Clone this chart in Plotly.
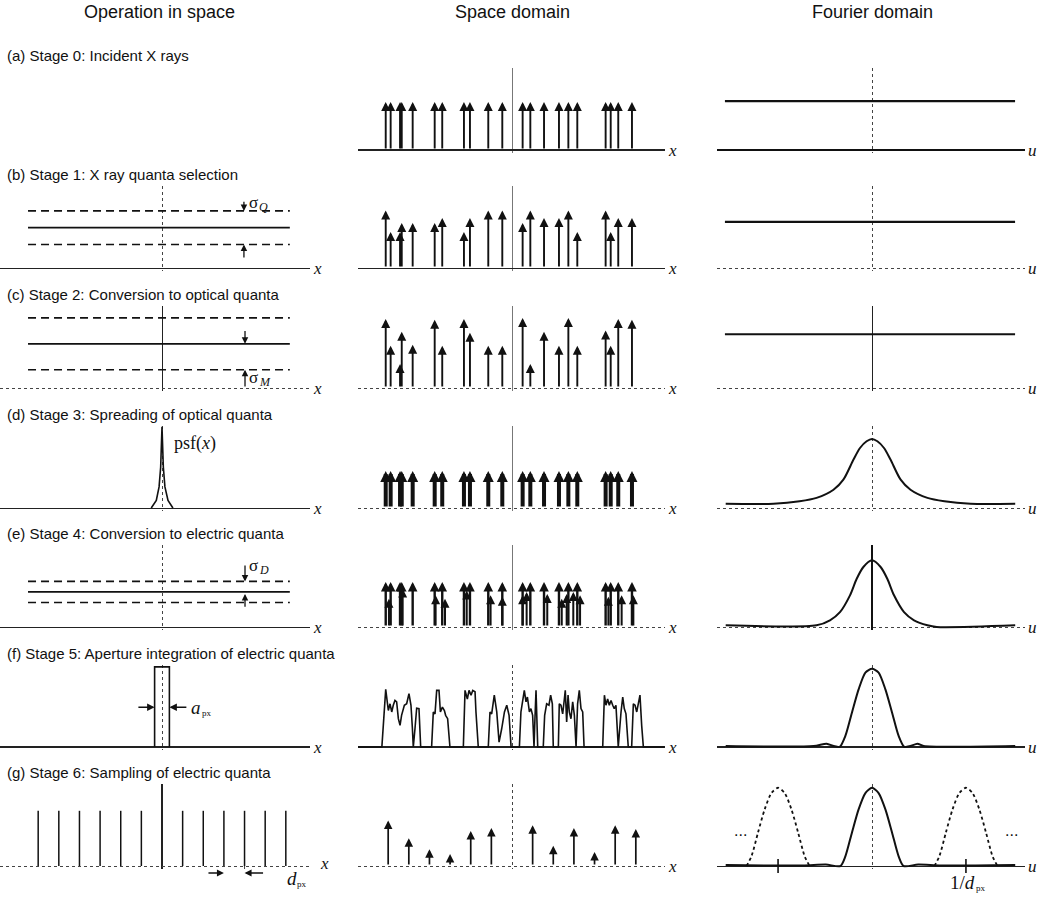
import plotly.graph_objects as go

# ======================= data =======================
column_titles = ["Operation in space", "Space domain", "Fourier domain"]
row_labels = [
    "(a) Stage 0: Incident X rays",
    "(b) Stage 1: X ray quanta selection",
    "(c) Stage 2: Conversion to optical quanta",
    "(d) Stage 3: Spreading of optical quanta",
    "(e) Stage 4: Conversion to electric quanta",
    "(f) Stage 5: Aperture integration of electric quanta",
    "(g) Stage 6: Sampling of electric quanta",
]

# positions of the individual quanta (space domain, arbitrary units)
quanta_x = [-82.0, -78.8, -72.7, -71.6, -64.5, -50.2, -45.3, -31.2, -27.3, -15.4, -6.3,
            6.9, 11.9, 20.8, 30.5, 36.6, 42.4, 60.8, 64.1, 69.0, 77.9]
stage0_heights = [1.0, 1.0, 1.0, 1.0, 1.0, 1.0, 1.0, 1.0, 1.0, 1.0, 1.0,
                  1.0, 1.0, 1.0, 1.0, 1.0, 1.0, 1.0, 1.0, 1.0, 1.0]
stage1_heights = [1.2, 0.75, 0.75, 0.94, 0.94, 0.94, 1.04, 0.75, 1.04, 1.2, 1.2,
                  0.94, 1.2, 1.04, 1.04, 1.2, 0.75, 1.2, 0.75, 1.04, 1.04]
stage2_heights = [1.44, 0.88, 0.5, 1.17, 0.9, 1.42, 0.88, 1.44, 1.15, 0.88, 0.88,
                  1.46, 0.5, 1.17, 0.88, 1.46, 0.88, 1.2, 0.88, 1.44, 1.42]
stage3_heights = [0.77, 0.77, 0.77, 0.77, 0.77, 0.77, 0.77, 0.77, 0.77, 0.77, 0.77,
                  0.77, 0.77, 0.77, 0.77, 0.77, 0.77, 0.77, 0.77, 0.77, 0.77]
stage4_heights = [0.94, 0.94, 0.94, 0.94, 0.94, 0.94, 0.94, 0.94, 0.94, 0.94, 0.94,
                  0.94, 0.94, 0.94, 0.94, 0.94, 0.94, 0.94, 0.94, 0.94, 0.94]
stage4_extra_x = [-79.9, -71.0, -49.6, -43.5, -29.4, -13.9, -6.3, 6.9, 9.5, 22.9, 32.3,
                  35.5, 39.8, 44.2, 62.6, 71.2, 78.8]
stage4_extra_h = [0.59, 0.8, 0.66, 0.59, 0.76, 0.66, 0.63, 0.66, 0.73, 0.69, 0.59,
                  0.69, 0.73, 0.66, 0.63, 0.66, 0.66]

# stage 5 : aperture-integrated signal (space domain)
stage5_x = [-100, -84.5, -82.0, -80.3, -79.2, -78.1, -77.1, -76.0, -74.9, -73.8, -72.7, -71.7,
            -69.9, -68.4, -66.9, -65.6, -64.7, -64.1, -63.0, -61.9, -60.4, -59.3,
            -52.2, -51.1, -50.0, -48.9, -47.4, -46.5, -45.2, -43.9, -43.1, -41.8, -40.3,
            -31.6, -30.5, -29.0, -27.9, -26.6, -25.5, -24.0, -23.4, -21.9,
            -15.4, -14.3, -13.2, -11.5, -9.9, -8.4, -6.7, -4.9, -3.4, -1.9, -0.6,
            4.8, 5.8, 6.9, 8.0, 9.1, 10.0, 11.3, 12.3, 13.4, 14.3, 14.9, 15.6, 16.7,
            20.3, 21.2, 22.5, 24.0, 25.1, 26.2, 26.8,
            30.1, 30.7, 31.8, 32.9, 34.0, 34.6, 35.5, 36.4, 37.2, 38.3, 39.4, 40.5, 41.6,
            42.6, 43.7, 44.8, 45.9, 46.8,
            58.9, 60.0, 61.0, 62.1, 63.2, 64.3, 65.4, 66.4, 67.5, 69.0,
            70.8, 71.9, 72.9, 74.0, 75.5,
            77.7, 78.8, 79.9, 81.0, 82.1, 83.1, 84.2, 85.3, 99]
stage5_y = [0, 0, 1.2, 0.76, 0.9, 0.73, 0.87, 0.97, 0.94, 0.59, 0.45, 0.66,
            0.87, 0.9, 1.11, 0.87, 0.4, 0.0, 0.38, 0.81, 0.8, 0.0,
            0, 0.73, 0.69, 1.18, 1.18, 0.73, 0.83, 0.76, 0.66, 0.59, 0,
            0, 1.18, 1.0, 1.18, 1.08, 1.18, 1.15, 0.73, 0,
            0, 0.73, 0.69, 1.08, 0.73, 0.1, 0.38, 0.73, 0.87, 0.66, 0,
            0, 0.73, 0.94, 1.18, 0.94, 1.04, 0.73, 0.8, 0.66, 0.0, 0.59, 1.18, 0,
            0, 0.66, 0.9, 0.87, 1.08, 0.9, 0,
            0, 0.9, 0.87, 0.69, 1.0, 1.18, 0.52, 1.08, 0.73, 0.59, 0.94, 0.66, 0.0,
            0.9, 1.18, 0.8, 0.73, 0,
            0, 1.08, 0.87, 1.0, 0.87, 0.97, 0.87, 0.8, 0.87, 0,
            0.73, 1.04, 0.8, 0.69, 0,
            0, 0.9, 0.87, 0.73, 0.94, 1.08, 0.45, 0, 0]

# stage 6 : sampling
sample_x = [-80.4, -67.0, -53.6, -40.2, -26.8, -13.4, 13.4, 26.8, 40.2, 53.6, 67.0, 80.4]
sample_values = [0.95, 0.58, 0.35, 0.25, 0.73, 0.79, 0.85, 0.42, 0.79, 0.29, 0.85, 0.77]
comb_heights = [1.15, 1.15, 1.15, 1.15, 1.15, 1.15, 1.15, 1.15, 1.15, 1.15, 1.15, 1.15]

# operation-in-space column
gain_extent = [-87, 83]
gain_mean = {"b": 0.84, "c": 0.92, "e": 0.73}
gain_sigma = {"b": 0.35, "c": 0.54, "e": 0.22}
psf_x = [-7.0, -3.7, -1.9, -0.87, 0.0, 0.87, 1.9, 3.9, 7.1]
psf_y = [0.0, 0.16, 0.44, 0.85, 1.69, 0.85, 0.44, 0.16, 0.0]
aperture_x = [-4.8, -4.8, 4.8, 4.8]
aperture_y = [0.0, 1.67, 1.67, 0.0]

# Fourier domain
fourier_flat_x = [-95.5, 92.9]
fourier_flat_levels = [1.02, 0.96, 1.12]
mtf3_x = [-95, -64, -47, -36, -25, -18.6, -12, -7.8, -3.5, 0, 3.5, 7.8, 12, 18.6, 25, 36, 47, 64, 93]
mtf3_y = [0.09, 0.09, 0.14, 0.21, 0.38, 0.59, 1.01, 1.25, 1.39, 1.44, 1.39, 1.25, 1.01, 0.59, 0.38,
          0.21, 0.14, 0.09, 0.09]
mtf4_x = [-95, -36, -27.3, -20.8, -14.3, -10, -5.6, 0, 5.6, 10, 14.3, 20.8, 27.3, 36, 42, 93]
mtf4_y = [0.035, 0.035, 0.14, 0.31, 0.66, 1.0, 1.25, 1.39, 1.25, 1.0, 0.66, 0.31, 0.14, 0.035, 0.0, 0.035]
mtf5_x = [-95, -37.9, -29.5, -24.9, -21.0, -17.3, -13.0, -8.7, -4.3, 0, 4.3, 8.7, 13.0, 17.3, 21.0,
          24.9, 29.5, 33.5, 93]
mtf5_y = [0.02, 0.02, 0.07, 0.02, 0.0, 0.23, 0.72, 1.2, 1.55, 1.63, 1.55, 1.2, 0.72, 0.23, 0.0,
          0.02, 0.07, 0.02, 0.02]
mtf6_x = [-95, -45, -30, -20.5, -17.3, -13, -8.7, -4.3, 0, 4.3, 8.7, 13, 17.3, 20.5, 30, 45, 93]
mtf6_y = [0.02, 0.01, 0.03, 0.0, 0.2, 0.7, 1.18, 1.52, 1.63, 1.52, 1.18, 0.7, 0.2, 0.0, 0.03, 0.01, 0.02]
alias_centres = [-61.0, 61.0]

# ======================= layout constants =======================
W, H = 1044, 899
X_SCALE = 1.54   # px per x unit
Y_SCALE = 48.0   # px per y unit
COLS = [(0, 310, 162), (358, 665, 512), (717, 1025, 872)]
ROW_BASE = [150, 268, 388, 508, 627, 747, 866]
TOP_PX, BOT_PX = 82, 3
SANS = "Liberation Sans, Arial, sans-serif"
SERIF = "Liberation Serif, Times New Roman, serif"
INK = "#111111"

SOLID = ("solid", "#222222", 1.2)
DOT = ("dot", "#444444", 1.2)
GREY = ("solid", "#777777", 1.0)
center_style = {
    (1, 0): DOT, (2, 0): SOLID, (3, 0): DOT, (4, 0): DOT, (5, 0): DOT, (6, 0): ("solid", "#222222", 1.5),
    (0, 1): GREY, (1, 1): GREY, (2, 1): GREY, (3, 1): GREY, (4, 1): GREY, (5, 1): DOT, (6, 1): DOT,
    (0, 2): DOT, (1, 2): DOT, (2, 2): SOLID, (3, 2): DOT, (4, 2): ("solid", "#111111", 1.8),
    (5, 2): DOT, (6, 2): DOT,
}
base_style = {
    (1, 0): SOLID, (2, 0): DOT, (3, 0): SOLID, (4, 0): SOLID, (5, 0): ("solid", "#222222", 1.6), (6, 0): DOT,
    (0, 1): ("solid", "#222222", 1.6), (1, 1): SOLID, (2, 1): DOT, (3, 1): DOT, (4, 1): DOT,
    (5, 1): ("solid", "#222222", 1.6), (6, 1): DOT,
    (0, 2): ("solid", "#111111", 2.0), (1, 2): DOT, (2, 2): DOT, (3, 2): DOT, (4, 2): DOT,
    (5, 2): ("solid", "#222222", 1.6), (6, 2): ("solid", "#222222", 1.4),
}

fig = go.Figure()
layout_axes = {}
panels = {}
annotations = []
shapes = []

i = 0
for r in range(7):
    for c in range(3):
        if (r, c) == (0, 0):
            continue
        i += 1
        xk = "xaxis" if i == 1 else f"xaxis{i}"
        yk = "yaxis" if i == 1 else f"yaxis{i}"
        xr = "x" if i == 1 else f"x{i}"
        yr = "y" if i == 1 else f"y{i}"
        x0, x1, xc = COLS[c]
        yb = ROW_BASE[r]
        cd, cc, cw = center_style[(r, c)]
        bd, bc, bw = base_style[(r, c)]
        common = dict(showticklabels=False, ticks="", zeroline=False, showline=False,
                      fixedrange=True, showgrid=True, tickvals=[0])
        layout_axes[xk] = dict(domain=[x0 / W, x1 / W],
                               range=[(x0 - xc) / X_SCALE, (x1 - xc) / X_SCALE],
                               anchor=yr, gridcolor=cc, gridwidth=cw, griddash=cd, **common)
        layout_axes[yk] = dict(domain=[1 - (yb + BOT_PX) / H, 1 - (yb - TOP_PX) / H],
                               range=[-BOT_PX / Y_SCALE, TOP_PX / Y_SCALE],
                               anchor=xr, gridcolor=bc, gridwidth=bw, griddash=bd, **common)
        panels[(r, c)] = (xr, yr)
        # axis variable label
        lab = "<i>u</i>" if c == 2 else "<i>x</i>"
        annotations.append(dict(text=lab, xref=f"{xr} domain", x=1, xanchor="left",
                                xshift=(8 if (r, c) == (6, 0) else 1),
                                yref=yr, y=0, yanchor="middle", yshift=(3 if (r, c) == (6, 0) else 0),
                                showarrow=False, font=dict(family=SERIF, size=17, color=INK)))


def line(p, xs, ys, width=2.0, dash="solid", shape="linear", color=INK, smoothing=1.0):
    xr, yr = panels[p]
    fig.add_trace(go.Scatter(x=xs, y=ys, xaxis=xr, yaxis=yr, mode="lines",
                             line=dict(color=color, width=width, dash=dash, shape=shape,
                                       smoothing=smoothing),
                             hoverinfo="skip", showlegend=False))


def arrow(p, x, y, ax, ay, width=2.0, size=0.9, head=2, color=INK, yshift=0):
    xr, yr = panels[p]
    annotations.append(dict(x=x, y=y, ax=ax, ay=ay, xref=xr, yref=yr, axref=xr, ayref=yr,
                            text="", showarrow=True, arrowhead=head, arrowsize=size,
                            arrowwidth=width, arrowcolor=color, standoff=0, startstandoff=0,
                            yshift=yshift))


def label(p, x, y, text, size=17, family=SERIF, xanchor="left", xshift=0, yshift=0):
    xr, yr = panels[p]
    annotations.append(dict(x=x, y=y, xref=xr, yref=yr, text=text, showarrow=False,
                            xanchor=xanchor, yanchor="middle", xshift=xshift, yshift=yshift,
                            borderpad=0, borderwidth=0,
                            font=dict(family=family, size=size, color=INK)))


def sublabel(p, x, y, main, sub, size=18, sub_size=10, sub_drop=5, yshift=0):
    # main text ends at x, subscript starts at x (no html <sub>)
    label(p, x, y, main, size=size, xanchor="right", yshift=yshift)
    label(p, x, y, sub, size=sub_size, xanchor="left", xshift=0.5, yshift=yshift - sub_drop)


# ---------------- column 0 : operation in space ----------------
for key, r in (("b", 1), ("c", 2), ("e", 4)):
    m, s = gain_mean[key], gain_sigma[key]
    line((r, 0), gain_extent, [m + s, m + s], width=1.6, dash="8px,5px")
    line((r, 0), gain_extent, [m, m], width=1.8)
    line((r, 0), gain_extent, [m - s, m - s], width=1.6, dash="8px,5px")

mb, sb = gain_mean["b"], gain_sigma["b"]
arrow((1, 0), 53.2, mb + sb, 53.2, mb + sb + 0.22, width=1.3, size=1.0)
arrow((1, 0), 53.2, mb - sb, 53.2, mb - sb - 0.3, width=1.3, size=1.0)
sublabel((1, 0), 62.5, mb + sb + 0.18, "σ", "<i>Q</i>", size=17, sub_size=12)

mc, sc = gain_mean["c"], gain_sigma["c"]
arrow((2, 0), 53.9, mc, 53.9, mc + 0.3, width=1.3, size=1.0)
arrow((2, 0), 53.9, mc - sc, 53.9, 0.0, width=1.3, size=1.0)
sublabel((2, 0), 62.5, 0.22, "σ", "<i>M</i>", size=17, sub_size=12)

line((3, 0), psf_x, psf_y, width=1.6)
label((3, 0), 8.0, 1.35, "psf(<i>x</i>)", size=18)

me, se = gain_mean["e"], gain_sigma["e"]
arrow((4, 0), 53.9, me + se, 53.9, me + se + 0.36, width=1.3, size=1.0)
arrow((4, 0), 53.9, me - 0.04, 53.9, me - se - 0.12, width=1.3, size=1.0)
sublabel((4, 0), 62.5, me + se + 0.34, "σ", "<i>D</i>", size=17, sub_size=12)

line((5, 0), aperture_x, aperture_y, width=1.6)
arrow((5, 0), aperture_x[0], 0.83, aperture_x[0] - 11.5, 0.83, width=1.5, size=1.0)
arrow((5, 0), aperture_x[-1], 0.83, aperture_x[-1] + 12.0, 0.83, width=1.5, size=1.0)
sublabel((5, 0), 25.5, 0.83, "<i>a</i>", "px", size=19, sub_size=9, sub_drop=6)

comb_x, comb_y = [], []
for p, h in zip(sample_x, comb_heights):
    comb_x += [p, p, None]
    comb_y += [0, h, None]
line((6, 0), comb_x, comb_y, width=1.5)
arrow((6, 0), sample_x[8], 0, sample_x[8] - 11.0, 0, width=1.4, size=1.0, yshift=-7)
arrow((6, 0), sample_x[9], 0, sample_x[9] + 13.0, 0, width=1.4, size=1.0, yshift=-7)
sublabel((6, 0), 87.5, 0, "<i>d</i>", "px", size=19, sub_size=9, sub_drop=6, yshift=-12)
shapes.append(dict(type="line", xref=panels[(6, 0)][0], yref=panels[(6, 0)][1],
                   x0=sample_x[9], x1=sample_x[9], y0=0, y1=-0.3,
                   line=dict(color="#444444", width=1, dash="dot")))

# ---------------- column 1 : space domain ----------------
for p, h in zip(quanta_x, stage0_heights):
    arrow((0, 1), p, h, p, 0, width=1.9, size=0.95)
for p, h in zip(quanta_x, stage1_heights):
    arrow((1, 1), p, h, p, 0, width=1.9, size=0.95)
for p, h in zip(quanta_x, stage2_heights):
    arrow((2, 1), p, h, p, 0, width=1.9, size=0.95)
for p, h in zip(quanta_x, stage3_heights):
    arrow((3, 1), p, h, p, 0, width=4.0, size=0.55)
for p, h in zip(quanta_x, stage4_heights):
    arrow((4, 1), p, h, p, 0, width=2.4, size=0.8)
for p, h in zip(stage4_extra_x, stage4_extra_h):
    arrow((4, 1), p, h, p, 0, width=2.0, size=0.9)
line((5, 1), stage5_x, stage5_y, width=1.6)
for p, h in zip(sample_x, sample_values):
    arrow((6, 1), p, h, p, 0, width=1.7, size=1.0)

# ---------------- column 2 : Fourier domain ----------------
for r, lev in zip((0, 1, 2), fourier_flat_levels):
    line((r, 2), fourier_flat_x, [lev, lev], width=2.2)
line((3, 2), mtf3_x, mtf3_y, width=2.0, shape="spline", smoothing=0.8)
line((4, 2), mtf4_x, mtf4_y, width=2.0, shape="spline", smoothing=0.8)
line((5, 2), mtf5_x, mtf5_y, width=2.0, shape="spline", smoothing=0.7)
line((6, 2), mtf6_x, mtf6_y, width=2.0, shape="spline", smoothing=0.7)
lobe = slice(3, 14)
for ctr in alias_centres:
    line((6, 2), [v + ctr for v in mtf6_x[lobe]], mtf6_y[lobe], width=1.8, dash="dot",
         shape="spline", smoothing=0.7)
xr, yr = panels[(6, 2)]
fig.add_trace(go.Scatter(x=alias_centres, y=[0, 0], xaxis=xr, yaxis=yr, mode="markers",
                         marker=dict(symbol="line-ns-open", size=10, color=INK,
                                     line=dict(width=1.6, color=INK)),
                         hoverinfo="skip", showlegend=False, cliponaxis=False))
sublabel((6, 2), alias_centres[1] + 6.0, 0, "1/<i>d</i>", "px", size=19, sub_size=9, sub_drop=6,
         yshift=-16)
label((6, 2), -85.7, 0.73, "...", size=16, family=SANS, xanchor="center")
label((6, 2), 90.9, 0.73, "...", size=16, family=SANS, xanchor="center")

# ---------------- titles / row labels ----------------
for t, xc in zip(column_titles, (159, 512, 872)):
    annotations.append(dict(text=t, xref="paper", yref="paper", x=xc / W, y=1 - 12 / H,
                            xanchor="center", yanchor="middle", showarrow=False,
                            font=dict(family=SANS, size=18, color=INK)))
for t, yb in zip(row_labels, ROW_BASE):
    annotations.append(dict(text=t, xref="paper", yref="paper", x=5 / W, y=1 - (yb - 94) / H,
                            xanchor="left", yanchor="middle", showarrow=False,
                            font=dict(family=SANS, size=15, color=INK)))

fig.update_layout(width=W, height=H, autosize=False, margin=dict(l=0, r=0, t=0, b=0),
                  paper_bgcolor="white", plot_bgcolor="white", showlegend=False,
                  annotations=annotations, shapes=shapes, **layout_axes)

fig.write_html("out.html", config={"displayModeBar": False},
               post_script="document.body.style.margin='0px';")
